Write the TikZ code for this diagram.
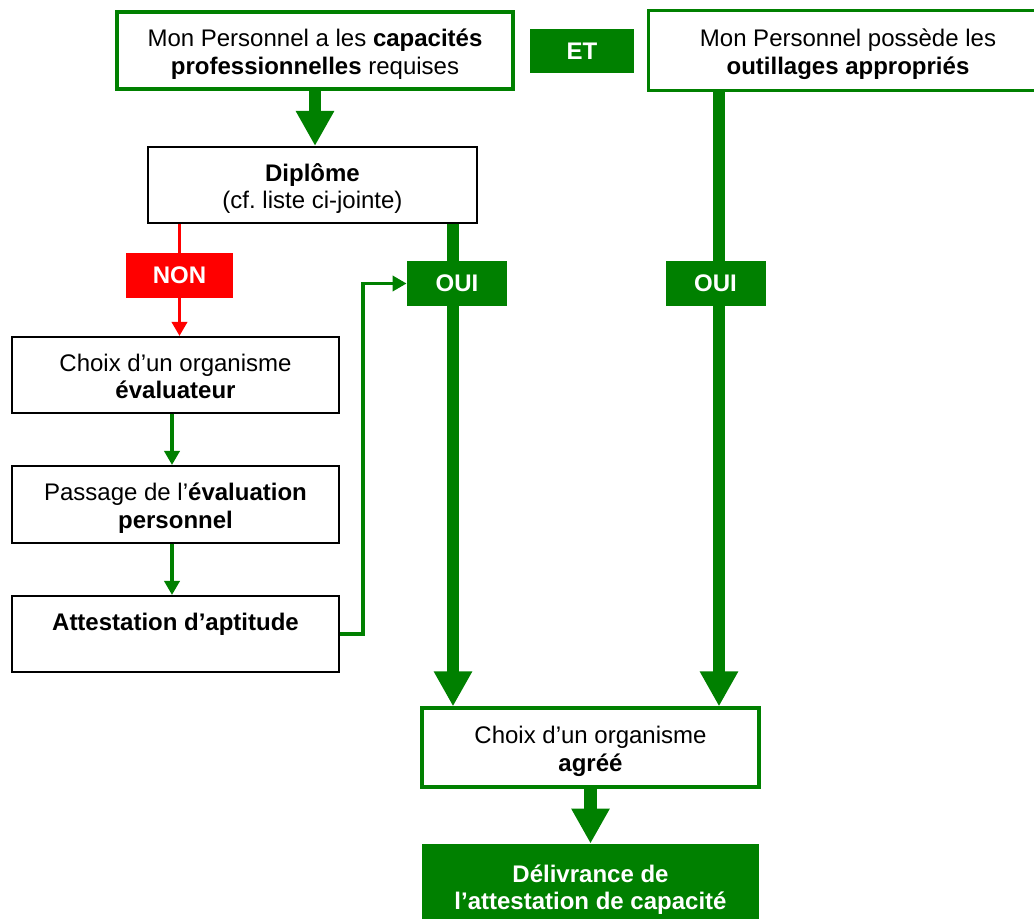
\documentclass[tikz,border=0pt]{standalone}
\usepackage{fontspec}
\setmainfont{Liberation Sans}
\usetikzlibrary{arrows.meta}
\definecolor{vert}{RGB}{0,128,0}
\definecolor{rouge}{RGB}{255,0,0}
\newcommand\strutTop{\rule{0pt}{13.1pt}}
\newcommand\strutBot{\rule[-3pt]{0pt}{3pt}}
\begin{document}
\begin{tikzpicture}[x=0.5pt,y=-0.5pt,
  font=\fontsize{12pt}{13.8pt}\selectfont,
  gbox/.style={draw=vert, line width=1.6pt, fill=white, align=center, inner sep=0pt},
  kbox/.style={draw=black, line width=1pt, fill=white, align=center, inner sep=0pt},
  gtag/.style={fill=vert, text=white, font=\fontsize{12pt}{13.8pt}\selectfont\bfseries, inner sep=0pt, align=center},
  rtag/.style={gtag, fill=rouge},
  bigline/.style={draw=vert, line width=6.3pt},
  bigarrow/.style={bigline, -{Triangle[width=18pt,length=17.5pt]}},
  thinarrow/.style={draw=vert, line width=1.8pt, -{Triangle[width=7.5pt,length=7pt]}},
  thinline/.style={draw=vert, line width=1.8pt},
  redline/.style={draw=rouge, line width=1.8pt},
  redarrow/.style={redline, -{Triangle[width=7.5pt,length=7pt]}}]
\useasboundingbox (0,0) rectangle (1034,919);
\clip (0,0) rectangle (1034,919);

% nodes
\node[gbox, minimum width=198pt, minimum height=38.5pt] (tl) at (315,50.5)
  {\strutTop Mon Personnel a les \textbf{capacités}\\\textbf{professionnelles} requises\strutBot};
\node[gtag, minimum width=52pt, minimum height=22pt] (et) at (582,51) {ET};
\node[gbox, draw=none, minimum width=198pt, minimum height=38.5pt] (tr) at (848,50.5)
  {\strutTop Mon Personnel possède les\\\textbf{outillages appropriés}\strutBot};
\draw[draw=vert, line width=1.6pt] (tr.north east) -- (tr.north west) -- (tr.south west) -- (tr.south east);
\node[kbox, minimum width=164.5pt, minimum height=38pt] (dip) at (312.5,185)
  {\strutTop\textbf{Diplôme}\\(cf.\ liste ci-jointe)\strutBot};
\node[rtag, minimum width=53.5pt, minimum height=22.5pt] (non) at (179.5,275.5) {NON};
\node[gtag, minimum width=50pt, minimum height=22.5pt] (oui1) at (457,283.5) {OUI};
\node[gtag, minimum width=50pt, minimum height=22.5pt] (oui2) at (715.5,283.5) {OUI};
\node[kbox, minimum width=163.5pt, minimum height=38pt] (eval) at (175.5,375)
  {\strutTop Choix d’un organisme\\\textbf{évaluateur}\strutBot};
\node[kbox, minimum width=163.5pt, minimum height=38.5pt] (pass) at (175.5,504.5)
  {\strutTop Passage de l’\textbf{évaluation}\\\textbf{personnel}\strutBot};
\node[kbox, minimum width=163.5pt, minimum height=38pt] (att) at (175.5,634)
  {\strutTop\textbf{Attestation d’aptitude}\\\strutBot};
\node[gbox, minimum width=168.5pt, minimum height=39.5pt] (agr) at (590.5,747.5)
  {\strutTop Choix d’un organisme\\\textbf{agréé}\strutBot};
\node[gtag, minimum width=168.5pt, minimum height=42pt] (del) at (590.5,886)
  {\strutTop Délivrance de\\l’attestation de capacité\strutBot};

% connectors
\draw[bigarrow] (tl.south) -- (tl.south |- dip.north);
\draw[redline] (non.north |- dip.south) -- (non.north);
\draw[redarrow] (non.south) -- (non.south |- eval.north);
\draw[thinarrow] ([xshift=-1.75pt]eval.south) -- ([xshift=-1.75pt]eval.south |- pass.north);
\draw[thinarrow] ([xshift=-1.75pt]pass.south) -- ([xshift=-1.75pt]pass.south |- att.north);
\draw[thinarrow] (att.east) -- ++(23,0) |- (oui1.west);
\draw[bigline] ([xshift=-2pt]oui1.north |- dip.south) -- ([xshift=-2pt]oui1.north);
\draw[bigarrow] ([xshift=-2pt]oui1.south) -- ([xshift=-2pt]oui1.south |- agr.north);
\draw[bigline] ([xshift=1.75pt]oui2.north |- tr.south) -- ([xshift=1.75pt]oui2.north);
\draw[bigarrow] ([xshift=1.75pt]oui2.south) -- ([xshift=1.75pt]oui2.south |- agr.north);
\draw[bigarrow] (agr.south) -- (agr.south |- del.north);
\end{tikzpicture}
\end{document}
